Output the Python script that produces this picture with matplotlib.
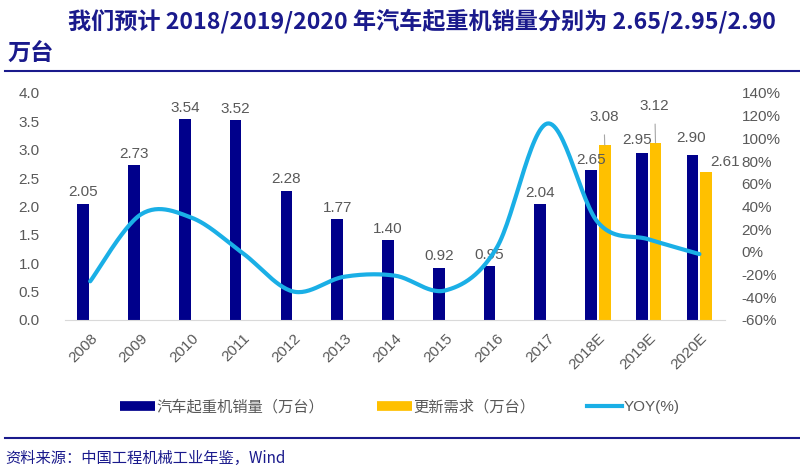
import numpy as np
import matplotlib.pyplot as plt
from matplotlib.lines import Line2D
from matplotlib.ticker import FuncFormatter

plt.rcParams['font.family'] = ['Liberation Sans', 'Noto Sans CJK SC', 'DejaVu Sans']

# data
years = ['2008', '2009', '2010', '2011', '2012', '2013', '2014',
         '2015', '2016', '2017', '2018E', '2019E', '2020E']
sales = [2.05, 2.73, 3.54, 3.52, 2.28, 1.77, 1.40, 0.92, 0.95, 2.04, 2.65, 2.95, 2.90]
renew = [0, 0, 0, 0, 0, 0, 0, 0, 0, 0, 3.08, 3.12, 2.61]
yoy = [-26, 33, 30, -1, -35, -22, -21, -34, 3, 113, 26, 11, -2]

navy = '#00008B'
gold = '#FFC000'
cyan = '#1AAFE6'
grey = '#595959'
title_c = '#1A1A8C'


def excel_smooth(x, y, n=30):
    # bezier smoothing like excel's "smoothed line"
    p = np.column_stack([x, y]).astype(float)
    p = np.vstack([p[0], p, p[-1]])
    out = []
    t = np.linspace(0, 1, n)[:, None]
    for i in range(1, len(p) - 2):
        p0, p3 = p[i], p[i + 1]
        c1 = p0 + (p[i + 1] - p[i - 1]) / 6
        c2 = p3 - (p[i + 2] - p[i]) / 6
        seg = ((1 - t) ** 3) * p0 + 3 * ((1 - t) ** 2) * t * c1 + 3 * (1 - t) * t ** 2 * c2 + t ** 3 * p3
        out.append(seg)
    out = np.vstack(out)
    return out[:, 0], out[:, 1]


fig = plt.figure(figsize=(8, 4.67), dpi=100)
ax = fig.add_axes([0.081, 0.315, 0.825, 0.486])
ax2 = ax.twinx()

x = np.arange(len(years))
w = 0.23
off = 0.135
ax.bar(x - off, sales, w, color=navy, zorder=2)
ax.bar(x[10:] + off, renew[10:], w, color=gold, zorder=2)

sx, sy = excel_smooth(x, yoy)
ax2.plot(sx, sy, color=cyan, lw=3, solid_capstyle='round', zorder=3)

ax.set_xlim(-0.5, len(years) - 0.5)
ax.set_ylim(0, 4.0)
ax.set_yticks(np.arange(0, 4.01, 0.5))
ax.yaxis.set_major_formatter(FuncFormatter(lambda v, p: f'{v:.1f}'))
ax2.set_ylim(-60, 140)
ax2.set_yticks(np.arange(-60, 141, 20))
ax2.yaxis.set_major_formatter(FuncFormatter(lambda v, p: f'{v:.0f}%'))

ax.set_xticks(x)
ax.set_xticklabels(years, rotation=45, ha='right', rotation_mode='anchor')

for a in (ax, ax2):
    for s in a.spines.values():
        s.set_visible(False)
    a.tick_params(length=0, colors=grey, labelsize=11)
ax.spines['bottom'].set_visible(True)
ax.spines['bottom'].set_color('#D9D9D9')
ax.tick_params(axis='x', pad=8)
ax.tick_params(axis='y', pad=18)
ax2.tick_params(axis='y', pad=12)
for lab in ax2.get_yticklabels():
    lab.set_ha('left')

# value labels for the historical bars
for i in range(10):
    ax.text(x[i] - off, sales[i] + 0.2, f'{sales[i]:.2f}', ha='center', va='center',
            color=grey, fontsize=11, zorder=4)

# forecast labels
ax.text(x[10] - 0.13, 2.82, '2.65', ha='center', va='center', color=grey, fontsize=11, zorder=4)
ax.text(x[11] - 0.22, 3.17, '2.95', ha='center', va='center', color=grey, fontsize=11, zorder=4)
ax.text(x[12] - 0.17, 3.20, '2.90', ha='center', va='center', color=grey, fontsize=11, zorder=4)
ax.text(x[12] + 0.5, 2.78, '2.61', ha='center', va='center', color=grey, fontsize=11, zorder=4)
ax.annotate('3.08', xy=(x[10] + off, renew[10]), xytext=(x[10] + 0.12, 3.58),
            ha='center', va='center', color=grey, fontsize=11, zorder=4,
            arrowprops=dict(arrowstyle='-', color='#A6A6A6', lw=0.8, shrinkA=6, shrinkB=0))
ax.annotate('3.12', xy=(x[11] + off, renew[11]), xytext=(x[11] + 0.12, 3.77),
            ha='center', va='center', color=grey, fontsize=11, zorder=4,
            arrowprops=dict(arrowstyle='-', color='#A6A6A6', lw=0.8, shrinkA=6, shrinkB=0))

handles = [Line2D([], [], color=navy, lw=7, solid_capstyle='butt'),
           Line2D([], [], color=gold, lw=7, solid_capstyle='butt'),
           Line2D([], [], color=cyan, lw=3)]
labels = ['汽车起重机销量（万台）', '更新需求（万台）', 'YOY(%)']
leg = fig.legend(handles, labels, loc='center', bbox_to_anchor=(0.5, 1 - 407 / 467),
                 ncol=3, frameon=False, fontsize=11, handlelength=2.3, handletextpad=0.1,
                 columnspacing=3.4)
for t in leg.get_texts():
    t.set_color(grey)

# title, rules and source
fig.text(0.085, 1 - 21 / 467, '我们预计 2018/2019/2020 年汽车起重机销量分别为 2.65/2.95/2.90',
         fontsize=16.7, fontweight='bold', color=title_c, va='center', ha='left',
         family=['Noto Sans CJK SC'])
fig.text(0.01, 1 - 54 / 467, '万台', fontsize=16.7, fontweight='bold', color=title_c,
         va='center', ha='left', family=['Noto Sans CJK SC'])
fig.add_artist(Line2D([0.006, 1.0], [1 - 71 / 467, 1 - 71 / 467], color=title_c, lw=1.5))
fig.add_artist(Line2D([0.006, 1.0], [1 - 438 / 467, 1 - 438 / 467], color=title_c, lw=1.5))
fig.text(0.006, 1 - 458 / 467, '资料来源：中国工程机械工业年鉴，Wind', fontsize=11,
         color=title_c, va='center', ha='left', family=['Noto Sans CJK SC', 'DejaVu Sans'])

fig.savefig('out.png', dpi=100)
